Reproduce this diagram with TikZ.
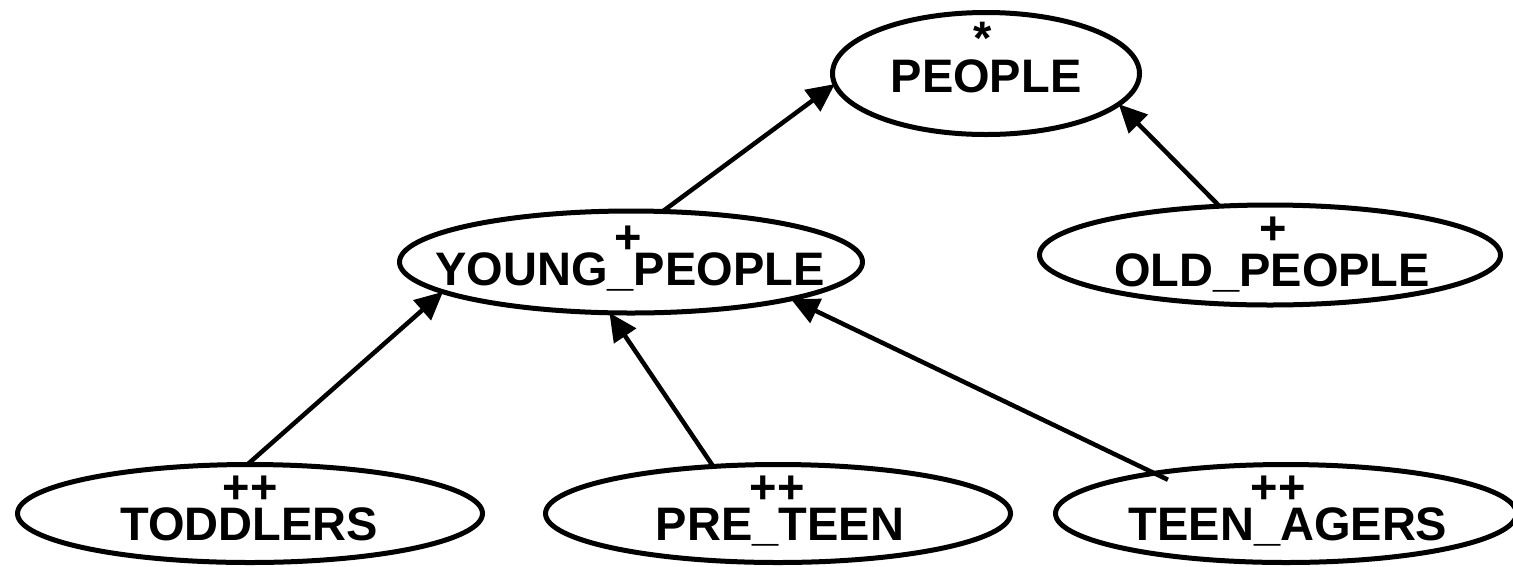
\documentclass[tikz,border=0pt]{standalone}
\usepackage{fontspec}
\setmainfont{Liberation Sans}
\usetikzlibrary{shapes.geometric,arrows.meta}
\tikzset{
  cls/.style={ellipse, draw, line width=5pt, inner sep=0pt, outer sep=0pt},
  lbl/.style={anchor=base, inner sep=0pt, font=\bfseries\fontsize{47}{50}\selectfont},
  arr/.style={line width=4.5pt, -{Triangle[length=28pt,width=26pt]}}
}
\begin{document}
\begin{tikzpicture}[x=1pt,y=-1pt]
\fill[white] (0,0) rectangle (1513,566);
\useasboundingbox (0,0) rectangle (1513,566);

% class ellipses
\node[cls, minimum width=307pt, minimum height=122pt] (people)   at (986,73.5) {};
\node[cls, minimum width=463pt, minimum height=102pt] (young)    at (631,262) {};
\node[cls, minimum width=461pt, minimum height=100pt] (old)      at (1270,255) {};
\node[cls, minimum width=465pt, minimum height=98pt]  (toddlers) at (250,513.5) {};
\node[cls, minimum width=465pt, minimum height=98pt]  (preteen)  at (778,513.5) {};
\node[cls, minimum width=461pt, minimum height=98pt]  (teen)     at (1286,513.5) {};

% markers and names
\node[lbl] (people-s)   at (983,54.5)    {*};
\node[lbl] (people-t)   at (986,92)      {PEOPLE};
\node[lbl] (young-s)    at (628,253.5)   {+};
\node[lbl] (young-t)    at (630,285)     {YOUNG\_PEOPLE};
\node[lbl] (old-s)      at (1273,244)    {+};
\node[lbl] (old-t)      at (1272,286)    {OLD\_PEOPLE};
\node[lbl] (toddlers-s) at (250,503.5)   {++};
\node[lbl] (toddlers-t) at (249,540)     {TODDLERS};
\node[lbl] (preteen-s)  at (777,503.5)   {++};
\node[lbl] (preteen-t)  at (780,540)     {PRE\_TEEN};
\node[lbl] (teen-s)     at (1278,503.5)  {++};
\node[lbl] (teen-t)     at (1288,540)    {TEEN\_AGERS};

% generalisation links
\draw[arr] (young.58.4) -- (people.184.3);
\draw[arr] (old.136) -- (people.347.9);
\draw[arr] (toddlers.93.4) -- (young.189.5);
\draw[arr] (preteen.144.5) -- (young.247.3);
\draw[arr, shorten <=-15pt] (teen.163.8) -- (young.347);
\end{tikzpicture}
\end{document}
